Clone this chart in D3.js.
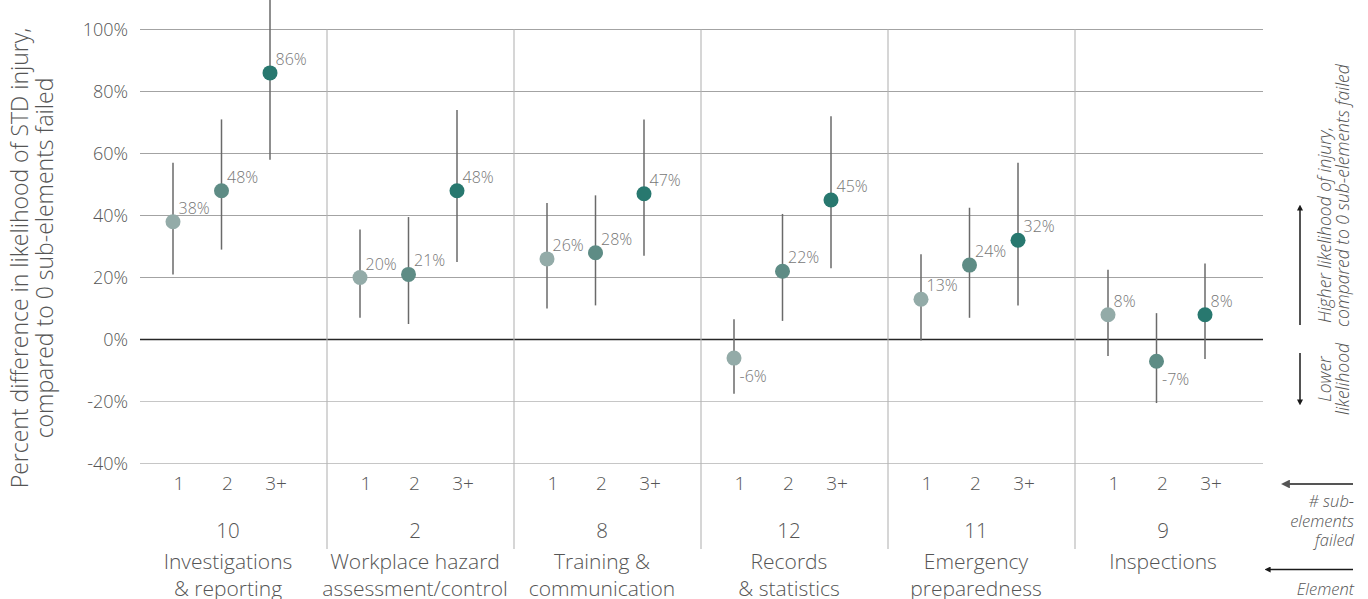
<!DOCTYPE html>
<html>
<head>
<meta charset="utf-8">
<script src="https://cdn.jsdelivr.net/npm/d3@7"></script>
<style>
  html, body { margin: 0; padding: 0; background: #fff; }
  svg { display: block; font-family: "Open Sans", "Noto Sans", sans-serif; font-weight: 300; }
</style>
</head>
<body>
<svg id="chart" width="1368" height="599"></svg>
<script>
// Elements of the safety program, in display order
const elementNumbers = ["10", "2", "8", "12", "11", "9"];
const elementNames = [
  ["Investigations", "& reporting"],
  ["Workplace hazard", "assessment/control"],
  ["Training &", "communication"],
  ["Records", "& statistics"],
  ["Emergency", "preparedness"],
  ["Inspections"]
];
// Number of sub-elements failed within each element
const failedLevels = ["1", "2", "3+"];
// Point estimates (% difference vs 0 sub-elements failed), one row per element
const estimates = [
  [38, 48, 86],
  [20, 21, 48],
  [26, 28, 47],
  [-6, 22, 45],
  [13, 24, 32],
  [8, -7, 8]
];
// Confidence interval bounds
const lowerBounds = [
  [21, 29, 58],
  [7, 5, 25],
  [10, 11, 27],
  [-17.5, 6, 23],
  [-0.3, 7, 11],
  [-5.3, -20.5, -6.3]
];
const upperBounds = [
  [57, 71, 116],
  [35.5, 39.5, 74],
  [44, 46.5, 71],
  [6.5, 40.5, 72],
  [27.5, 42.5, 57],
  [22.5, 8.5, 24.5]
];
const yTicks = [-40, -20, 0, 20, 40, 60, 80, 100];
const levelColors = ["#93aba8", "#5e8c85", "#28786f"];

const svg = d3.select("#chart");

const y = d3.scaleLinear().domain([-40, 100]).range([463.5, 29.5]);
const xGroup = d3.scaleBand().domain(elementNumbers.map((d, i) => i)).range([140, 1262]);
const xLevel = d3.scalePoint().domain(failedLevels).range([33, 130]);

// Horizontal gridlines
svg.append("g").selectAll("line").data(yTicks).join("line")
  .attr("x1", 140).attr("x2", 1263)
  .attr("y1", d => y(d)).attr("y2", d => y(d))
  .attr("stroke", d => d === 0 ? "#262626" : (d < 0 ? "#c6c6c6" : "#a3a3a3"))
  .attr("stroke-width", d => d === 0 ? 1.6 : 1.1);

// Vertical dividers between elements
svg.append("g").selectAll("line").data(d3.range(1, elementNumbers.length)).join("line")
  .attr("x1", i => xGroup(i)).attr("x2", i => xGroup(i))
  .attr("y1", y(100)).attr("y2", 549)
  .attr("stroke", "#b5b5b5").attr("stroke-width", 1.1);

// Y axis tick labels
const yAxis = d3.axisLeft(y).tickValues(yTicks).tickSize(0).tickPadding(0)
  .tickFormat(d => d + "%");
svg.append("g").attr("transform", "translate(128,0)").call(yAxis)
  .attr("font-family", null).attr("font-size", null)
  .call(g => g.select(".domain").remove())
  .selectAll("text")
  .attr("font-size", 18).attr("fill", "#555").attr("dy", "0.36em");

// Y axis title
const yTitle = svg.append("g").attr("transform", "translate(28,258) rotate(-90)")
  .attr("fill", "#555").attr("font-size", 23).attr("text-anchor", "middle");
yTitle.append("text").attr("y", 0).text("Percent difference in likelihood of STD injury,");
yTitle.append("text").attr("y", 24.5).text("compared to 0 sub-elements failed");

// Points with error bars
const points = [];
estimates.forEach((row, gi) => row.forEach((v, li) => points.push({
  gi, level: failedLevels[li], li, v, lo: lowerBounds[gi][li], hi: upperBounds[gi][li]
})));
const px = d => xGroup(d.gi) + xLevel(d.level);

const marks = svg.append("g");
marks.selectAll("line").data(points).join("line")
  .attr("x1", px).attr("x2", px)
  .attr("y1", d => y(d.lo)).attr("y2", d => y(d.hi))
  .attr("stroke", "#6a6a6a").attr("stroke-width", 1.5);
marks.selectAll("circle").data(points).join("circle")
  .attr("cx", px).attr("cy", d => y(d.v)).attr("r", 7.5)
  .attr("fill", d => levelColors[d.li]);
marks.selectAll("text").data(points).join("text")
  .attr("x", d => px(d) + 5.5)
  .attr("y", d => y(d.v) + (d.v < 0 ? 24 : -8))
  .attr("font-size", 16).attr("fill", "#777")
  .text(d => d.v + "%");

// Category labels: sub-elements failed, element number, element name
const cats = svg.append("g").attr("fill", "#555").attr("text-anchor", "middle");
cats.selectAll("text.lvl").data(points).join("text").attr("class", "lvl")
  .attr("x", d => px(d) + 6).attr("y", 490)
  .attr("font-size", 19).text(d => d.level);
cats.selectAll("text.num").data(elementNumbers).join("text").attr("class", "num")
  .attr("x", (d, i) => xGroup(i) + 88).attr("y", 538)
  .attr("font-size", 20.5).text(d => d);
elementNames.forEach((lines, i) => {
  lines.forEach((t, k) => {
    cats.append("text").attr("x", xGroup(i) + 88).attr("y", 569 + k * 27)
      .attr("font-size", 21).text(t);
  });
});

// Right-hand annotations
const defs = svg.append("defs");
function head(id, color) {
  defs.append("marker").attr("id", id).attr("viewBox", "0 0 10 10")
    .attr("refX", 1).attr("refY", 5).attr("markerWidth", 4).attr("markerHeight", 4)
    .attr("markerUnits", "strokeWidth").attr("orient", "auto-start-reverse")
    .append("path").attr("d", "M0,0 L10,5 L0,10 z").attr("fill", color);
}
head("arrDark", "#1a1a1a");
head("arrGray", "#555");

const ann = svg.append("g");
ann.append("line").attr("x1", 1300).attr("x2", 1300).attr("y1", 325).attr("y2", 210)
  .attr("stroke", "#1a1a1a").attr("stroke-width", 1.5).attr("marker-end", "url(#arrDark)");
ann.append("line").attr("x1", 1300).attr("x2", 1300).attr("y1", 353).attr("y2", 400)
  .attr("stroke", "#1a1a1a").attr("stroke-width", 1.5).attr("marker-end", "url(#arrDark)");
ann.append("line").attr("x1", 1353).attr("x2", 1289).attr("y1", 484).attr("y2", 484)
  .attr("stroke", "#555").attr("stroke-width", 2.2).attr("marker-end", "url(#arrGray)");
ann.append("line").attr("x1", 1353).attr("x2", 1270).attr("y1", 569.5).attr("y2", 569.5)
  .attr("stroke", "#1a1a1a").attr("stroke-width", 1.5).attr("marker-end", "url(#arrDark)");

const higher = ann.append("g").attr("transform", "translate(1331,323) rotate(-90)")
  .attr("font-size", 17.5).attr("font-style", "italic").attr("fill", "#555");
higher.append("text").attr("y", 0).text("Higher likelihood of injury,");
higher.append("text").attr("x", -4).attr("y", 18).text("compared to 0 sub-elements failed");

const lower = ann.append("g").attr("transform", "translate(1331,379) rotate(-90)")
  .attr("font-size", 17.5).attr("font-style", "italic").attr("fill", "#555")
  .attr("text-anchor", "middle");
lower.append("text").attr("y", 0).text("Lower");
lower.append("text").attr("y", 18).text("likelihood");

const notes = ann.append("g").attr("font-size", 16.5).attr("font-style", "italic")
  .attr("fill", "#555").attr("text-anchor", "end");
["# sub-", "elements", "failed"].forEach((t, k) => {
  notes.append("text").attr("x", 1354).attr("y", 507 + k * 19.5).text(t);
});
notes.append("text").attr("x", 1354).attr("y", 595).text("Element");
</script>
</body>
</html>
